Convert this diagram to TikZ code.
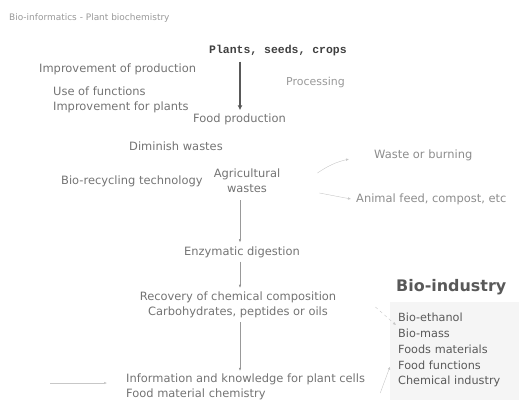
\documentclass[tikz,border=0pt]{standalone}
\usepackage{fontspec}
\setmainfont{DejaVu Sans}
\newfontfamily\plantsfont{Liberation Mono}
\usetikzlibrary{arrows.meta,positioning}

\begin{document}
\begin{tikzpicture}[x=1bp,y=-1bp,
  txt/.style={text=black!55,font=\fontsize{11.5}{15}\selectfont,inner sep=1pt},
  item/.style={text=black!65,font=\fontsize{11.3}{15}\selectfont,inner sep=0pt,
    text width=115bp,align=left,minimum height=15.8bp},
  bigarrow/.style={draw=black!65,line width=1.6bp,-{Latex[length=5bp,width=5bp]}},
  flow/.style={draw=black!40,thin,-{Latex[length=3bp,width=2.5bp,fill=black!60]}},
  faint/.style={draw=black!22,thin,-{Latex[length=3bp,width=2.5bp]}}]

\useasboundingbox (0,0) rectangle (519,418);

% faded backing of the industry list
\fill[black!4] (390,302) rectangle (519,400);

\node[txt,anchor=west,text=black!40,font=\fontsize{9}{10}\selectfont] (title) at (8,18) {Bio-informatics - Plant biochemistry};

\node[anchor=west,text=black!75,font=\plantsfont\bfseries\fontsize{11.5}{13}\selectfont,inner sep=1pt] (plants) at (208,51) {Plants, seeds, crops};

\node[txt,anchor=west] (prod) at (38,69) {Improvement of production};
\node[txt,anchor=west,text=black!40,font=\fontsize{11}{13}\selectfont] (proc) at (285,82) {Processing};
\node[txt,anchor=west,align=left] (use) at (52,100) {Use of functions\\Improvement for plants};
\node[txt,anchor=west] (food) at (192,119) {Food production};
\node[txt,anchor=west] (dimin) at (128,146) {Diminish wastes};
\node[txt,anchor=west,text=black!45] (burn) at (373,155) {Waste or burning};
\node[txt,anchor=west] (recyc) at (60,181) {Bio-recycling technology};
\node[txt,align=center] (agri) at (247,181) {Agricultural\\wastes};
\node[txt,anchor=west,text=black!45] (animal) at (355,199) {Animal feed, compost, etc};
\node[txt] (enzy) at (242,252) {Enzymatic digestion};
\node[txt,align=center] (recov) at (238,305) {Recovery of chemical composition\\Carbohydrates, peptides or oils};
\node[txt,anchor=west,align=left] (info) at (125,387) {Information and knowledge for plant cells\\Food material chemistry};

\node[anchor=west,text=black!65,font=\bfseries\fontsize{16}{18}\selectfont,inner sep=1pt] (bioind) at (395,287) {Bio-industry};
\node[item,anchor=west] (ethanol) at (398,317) {Bio-ethanol};
\node[item,below=0pt of ethanol] (mass) {Bio-mass};
\node[item,below=0pt of mass] (foodmat) {Foods materials};
\node[item,below=0pt of foodmat] (foodfun) {Food functions};
\node[item,below=0pt of foodfun] (chem) {Chemical industry};

\coordinate (axis) at (240,0);
\coordinate (left) at (50,383);

\draw[bigarrow] ([yshift=-4bp]plants.south -| axis) -- ([yshift=2bp]food.north -| axis);
\draw[flow] ([yshift=-6bp]agri.south -| axis) -- ([yshift=3bp]enzy.north -| axis);
\draw[flow] ([yshift=-3bp]enzy.south -| axis) -- ([yshift=3bp]recov.north -| axis);
\draw[flow] ([yshift=-3bp]recov.south -| axis) -- ([yshift=2bp]info.north -| axis);
\draw[faint] ([xshift=36bp,yshift=8bp]agri.east) to[bend left=10] ([xshift=-24bp,yshift=-4bp]burn.west);
\draw[faint] ([xshift=38bp,yshift=-12bp]agri.east) -- ([xshift=-4bp]animal.west);
\draw[faint,dashed] ([shift={(38bp,-2bp)}]recov.east) -- ([xshift=-2bp]ethanol.south west);
\draw[faint] ([shift={(14bp,-6bp)}]info.east) -- ([xshift=-8bp,yshift=-1bp]foodfun.west);
\draw[faint] (left) -- ([xshift=-18bp]info.west |- left);

\end{tikzpicture}
\end{document}
